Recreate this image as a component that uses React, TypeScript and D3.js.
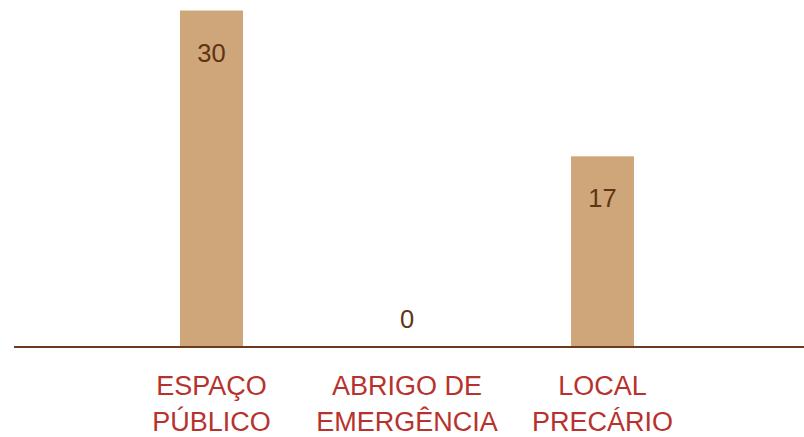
import React from "react";
import * as d3 from "d3";

// Where people were found sleeping
const categories: string[][] = [
  ["ESPAÇO", "PÚBLICO"],
  ["ABRIGO DE", "EMERGÊNCIA"],
  ["LOCAL", "PRECÁRIO"],
];
const values: number[] = [30, 0, 17];

const WIDTH = 804;
const HEIGHT = 437;
const BASELINE = 347;
const BAR_WIDTH = 63;

const BAR_COLOR = "#cfa57a";
const AXIS_COLOR = "#6b3a1a";
const VALUE_COLOR = "#5e3512";
const LABEL_COLOR = "#b8322d";
const FONT = "'Liberation Sans', Arial, Helvetica, sans-serif";

export default function App() {
  const keys = categories.map((c) => c.join(" "));
  const x = d3.scalePoint<string>().domain(keys).range([211.5, 602.5]);
  const y = d3.scaleLinear().domain([0, 30]).range([BASELINE, 10.5]);

  return (
    <svg
      width={WIDTH}
      height={HEIGHT}
      style={{ position: "absolute", left: 0, top: 0, display: "block", background: "#fff" }}
    >
      {values.map((v, i) => {
        const cx = x(keys[i]) as number;
        const top = y(v);
        return (
          <g key={keys[i]}>
            {v > 0 && (
              <rect x={cx - BAR_WIDTH / 2} y={top} width={BAR_WIDTH} height={BASELINE - top} fill={BAR_COLOR} />
            )}
            <text
              x={cx}
              y={v > 0 ? top + 51 : BASELINE - 19}
              textAnchor="middle"
              fontFamily={FONT}
              fontSize={25.5}
              fill={VALUE_COLOR}
            >
              {v}
            </text>
            {categories[i].map((line, j) => (
              <text
                key={line}
                x={cx}
                y={395 + j * 36}
                textAnchor="middle"
                fontFamily={FONT}
                fontSize={27}
                fill={LABEL_COLOR}
              >
                {line}
              </text>
            ))}
          </g>
        );
      })}
      <line x1={14} x2={WIDTH} y1={BASELINE} y2={BASELINE} stroke={AXIS_COLOR} strokeWidth={2} />
    </svg>
  );
}
